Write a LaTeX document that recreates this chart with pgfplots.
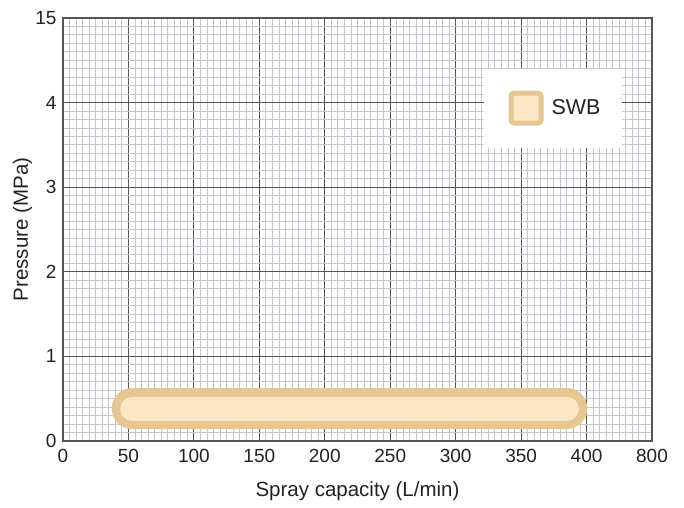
\documentclass[border=0pt]{standalone}
\usepackage{pgfplots}
\pgfplotsset{compat=1.18}
\usepackage{fontspec}
\setmainfont{Liberation Sans}

\definecolor{majgrid}{HTML}{555555}
\definecolor{mingrid}{HTML}{C6C6CC}
\definecolor{bandedge}{HTML}{E6C791}
\definecolor{bandfill}{HTML}{FDE6C3}
\definecolor{txt}{HTML}{222222}

\begin{document}
\begin{tikzpicture}
\begin{axis}[
    scale only axis,
    width=589pt, height=423pt,
    xmin=0, xmax=450, ymin=0, ymax=5,
    % last interval is compressed: 400..800 and 4..15
    xtick={0,50,...,450},
    xticklabels={0,50,100,150,200,250,300,350,400,800},
    ytick={0,1,2,3,4,5},
    yticklabels={0,1,2,3,4,15},
    minor x tick num=9, minor y tick num=9,
    grid=both,
    major grid style={majgrid, line width=0.9pt},
    minor grid style={mingrid, line width=0.9pt},
    major tick length=0pt, minor tick length=0pt,
    axis line style={majgrid, line width=1.3pt},
    tick label style={font=\fontsize{19}{22}\selectfont, text=txt},
    xticklabel style={yshift=-5pt},
    yticklabel style={xshift=-3pt},
    /pgf/number format/assume math mode=true,
    xlabel={Spray capacity (L/min)},
    ylabel={Pressure (MPa)},
    every axis x label/.style={at={(axis description cs:0.5,-0.118)}, anchor=center,
        font=\fontsize{20.5}{24}\selectfont, text=txt},
    every axis y label/.style={at={(axis description cs:-0.0688,0.5)}, anchor=center, rotate=90,
        font=\fontsize{20.5}{24}\selectfont, text=txt},
    legend style={at={(0.9486,0.881)}, anchor=north east, draw=none, fill=white,
        inner xsep=19pt, inner ysep=22pt,
        font=\fontsize{21.5}{25}\selectfont, text=txt},
    legend image code/.code={
        \path[draw=none] (0pt,0pt) -- (47pt,0pt);
        \draw[bandedge, fill=bandfill, line width=5pt, rounded corners=3pt]
            (8.5pt,-15pt) rectangle (38.5pt,15pt);},
]
\addplot[bandedge, line width=41pt, line cap=round, no markers, forget plot]
    coordinates {(52.9,0.384) (384.9,0.384)};
\addplot[bandfill, line width=24pt, line cap=round, no markers]
    coordinates {(52.9,0.384) (384.9,0.384)};
\addlegendentry{SWB}
\end{axis}
\pgfresetboundingbox
\path (current axis.south west) ++(-63pt,-66pt) rectangle ++(684pt,507pt);
\end{tikzpicture}
\end{document}
